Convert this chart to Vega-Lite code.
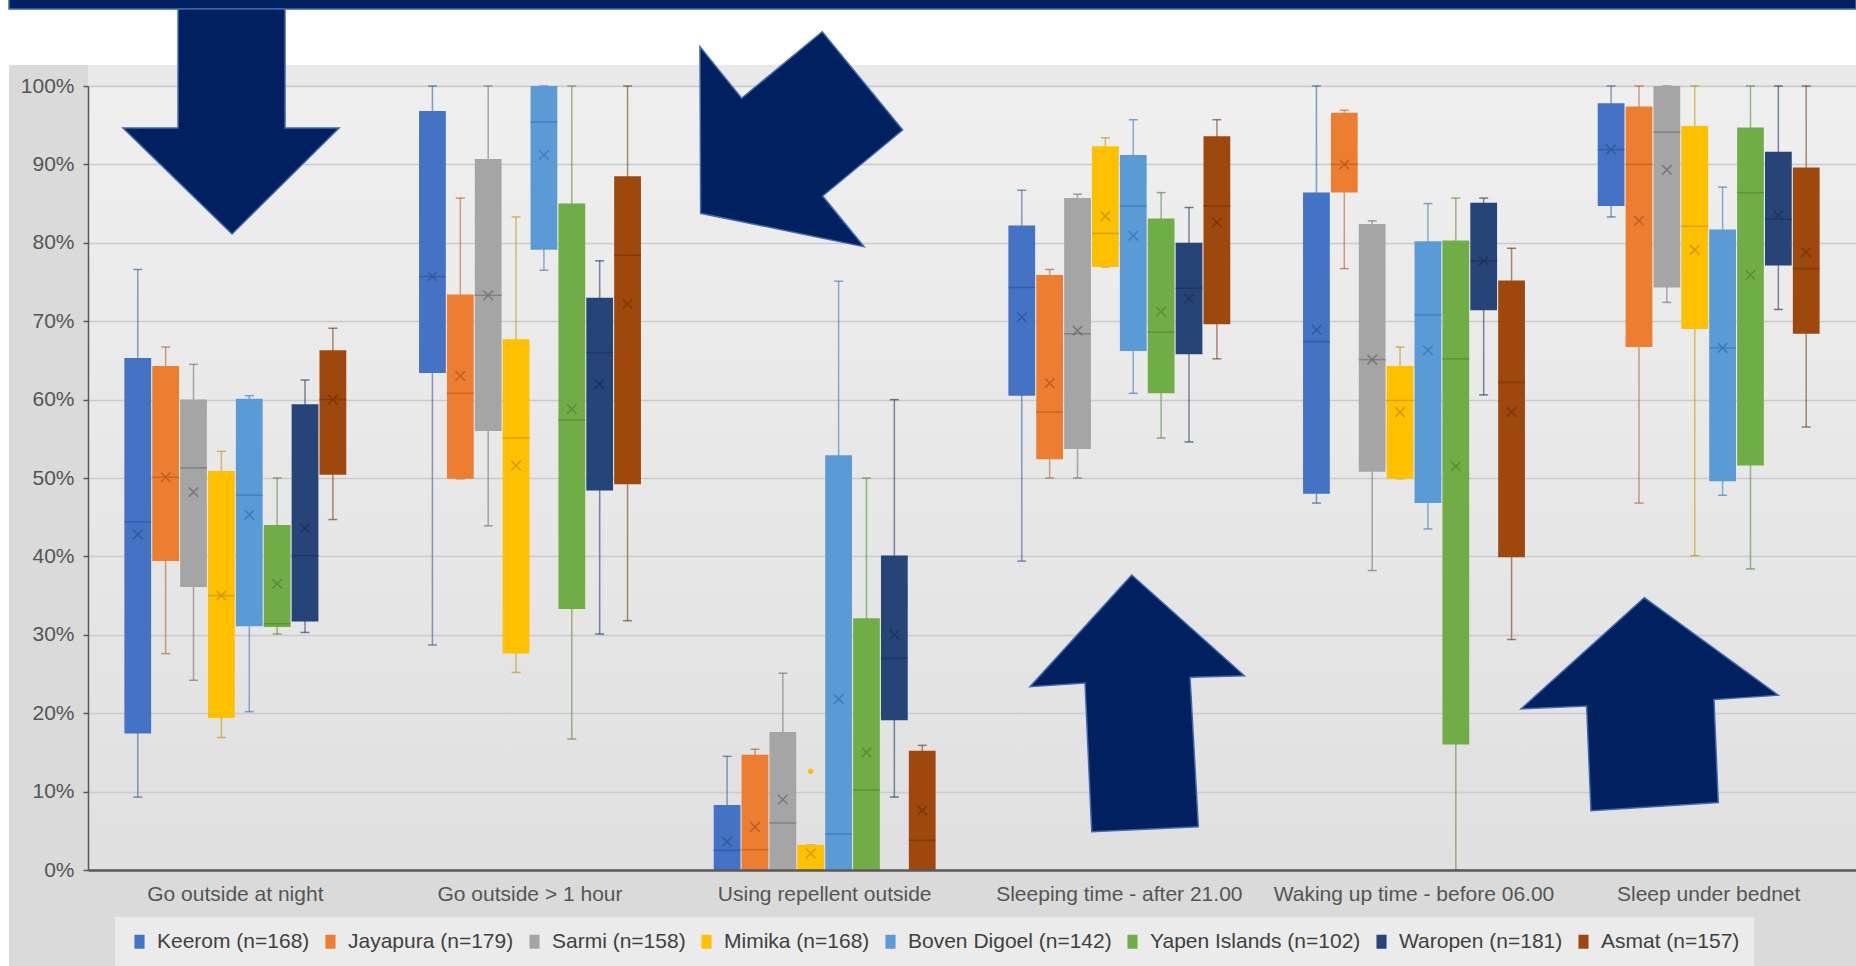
{
  "$schema": "https://vega.github.io/schema/vega-lite/v6.json",
  "width": 1768,
  "height": 784,
  "autosize": {"type": "none"},
  "padding": {"left": 88, "top": 86, "right": 0, "bottom": 96},
  "background": "#dadada",
  "datasets": {
    "boxes": [
      {"cat": "Go outside at night", "district": "Keerom (n=168)", "lo": 9.3, "q1": 17.4, "med": 44.4, "q3": 65.3, "hi": 76.6, "mean": 42.8},
      {"cat": "Go outside at night", "district": "Jayapura (n=179)", "lo": 27.6, "q1": 39.4, "med": 50.1, "q3": 64.3, "hi": 66.7, "mean": 50.1},
      {"cat": "Go outside at night", "district": "Sarmi (n=158)", "lo": 24.2, "q1": 36.1, "med": 51.3, "q3": 60.0, "hi": 64.5, "mean": 48.2},
      {"cat": "Go outside at night", "district": "Mimika (n=168)", "lo": 16.9, "q1": 19.4, "med": 35.0, "q3": 50.9, "hi": 53.4, "mean": 35.0},
      {"cat": "Go outside at night", "district": "Boven Digoel (n=142)", "lo": 20.2, "q1": 31.1, "med": 47.8, "q3": 60.1, "hi": 60.5, "mean": 45.3},
      {"cat": "Go outside at night", "district": "Yapen Islands (n=102)", "lo": 30.1, "q1": 31.0, "med": 31.4, "q3": 44.0, "hi": 50.0, "mean": 36.5},
      {"cat": "Go outside at night", "district": "Waropen (n=181)", "lo": 30.3, "q1": 31.7, "med": 40.1, "q3": 59.4, "hi": 62.5, "mean": 43.6},
      {"cat": "Go outside at night", "district": "Asmat (n=157)", "lo": 44.7, "q1": 50.4, "med": 60.0, "q3": 66.3, "hi": 69.1, "mean": 60.0},

      {"cat": "Go outside > 1 hour", "district": "Keerom (n=168)", "lo": 28.7, "q1": 63.4, "med": 75.7, "q3": 96.8, "hi": 100, "mean": 75.7},
      {"cat": "Go outside > 1 hour", "district": "Jayapura (n=179)", "lo": 49.9, "q1": 49.9, "med": 60.8, "q3": 73.4, "hi": 85.7, "mean": 63.0},
      {"cat": "Go outside > 1 hour", "district": "Sarmi (n=158)", "lo": 43.9, "q1": 56.0, "med": 73.3, "q3": 90.7, "hi": 100, "mean": 73.3},
      {"cat": "Go outside > 1 hour", "district": "Mimika (n=168)", "lo": 25.2, "q1": 27.6, "med": 55.1, "q3": 67.7, "hi": 83.3, "mean": 51.6},
      {"cat": "Go outside > 1 hour", "district": "Boven Digoel (n=142)", "lo": 76.5, "q1": 79.1, "med": 95.4, "q3": 100, "hi": 100, "mean": 91.2},
      {"cat": "Go outside > 1 hour", "district": "Yapen Islands (n=102)", "lo": 16.7, "q1": 33.3, "med": 57.4, "q3": 85.0, "hi": 100, "mean": 58.8},
      {"cat": "Go outside > 1 hour", "district": "Waropen (n=181)", "lo": 30.1, "q1": 48.4, "med": 66.0, "q3": 73.0, "hi": 77.7, "mean": 62.0},
      {"cat": "Go outside > 1 hour", "district": "Asmat (n=157)", "lo": 31.8, "q1": 49.2, "med": 78.4, "q3": 88.5, "hi": 100, "mean": 72.2},

      {"cat": "Using repellent outside", "district": "Keerom (n=168)", "lo": 0, "q1": 0, "med": 2.5, "q3": 8.3, "hi": 14.5, "mean": 3.6},
      {"cat": "Using repellent outside", "district": "Jayapura (n=179)", "lo": 0, "q1": 0, "med": 2.6, "q3": 14.7, "hi": 15.4, "mean": 5.5},
      {"cat": "Using repellent outside", "district": "Sarmi (n=158)", "lo": 0, "q1": 0, "med": 6.0, "q3": 17.6, "hi": 25.1, "mean": 9.0},
      {"cat": "Using repellent outside", "district": "Mimika (n=168)", "lo": 0, "q1": 0, "med": 0, "q3": 3.2, "hi": 3.2, "mean": 2.1},
      {"cat": "Using repellent outside", "district": "Boven Digoel (n=142)", "lo": 0, "q1": 0, "med": 4.6, "q3": 52.9, "hi": 75.1, "mean": 21.8},
      {"cat": "Using repellent outside", "district": "Yapen Islands (n=102)", "lo": 0, "q1": 0, "med": 10.2, "q3": 32.1, "hi": 50.0, "mean": 15.0},
      {"cat": "Using repellent outside", "district": "Waropen (n=181)", "lo": 9.3, "q1": 19.1, "med": 27.0, "q3": 40.1, "hi": 60.0, "mean": 30.0},
      {"cat": "Using repellent outside", "district": "Asmat (n=157)", "lo": 0, "q1": 0, "med": 3.8, "q3": 15.2, "hi": 15.9, "mean": 7.6},

      {"cat": "Sleeping time - after 21.00", "district": "Keerom (n=168)", "lo": 39.4, "q1": 60.5, "med": 74.3, "q3": 82.2, "hi": 86.7, "mean": 70.5},
      {"cat": "Sleeping time - after 21.00", "district": "Jayapura (n=179)", "lo": 50.0, "q1": 52.4, "med": 58.4, "q3": 75.9, "hi": 76.6, "mean": 62.1},
      {"cat": "Sleeping time - after 21.00", "district": "Sarmi (n=158)", "lo": 50.0, "q1": 53.7, "med": 68.4, "q3": 85.7, "hi": 86.2, "mean": 68.8},
      {"cat": "Sleeping time - after 21.00", "district": "Mimika (n=168)", "lo": 76.9, "q1": 76.9, "med": 81.2, "q3": 92.3, "hi": 93.4, "mean": 83.4},
      {"cat": "Sleeping time - after 21.00", "district": "Boven Digoel (n=142)", "lo": 60.8, "q1": 66.2, "med": 84.7, "q3": 91.2, "hi": 95.7, "mean": 80.9},
      {"cat": "Sleeping time - after 21.00", "district": "Yapen Islands (n=102)", "lo": 55.1, "q1": 60.8, "med": 68.6, "q3": 83.1, "hi": 86.4, "mean": 71.2},
      {"cat": "Sleeping time - after 21.00", "district": "Waropen (n=181)", "lo": 54.6, "q1": 65.8, "med": 74.2, "q3": 80.0, "hi": 84.5, "mean": 72.9},
      {"cat": "Sleeping time - after 21.00", "district": "Asmat (n=157)", "lo": 65.2, "q1": 69.6, "med": 84.7, "q3": 93.6, "hi": 95.7, "mean": 82.6},

      {"cat": "Waking up time - before 06.00", "district": "Keerom (n=168)", "lo": 46.8, "q1": 48.0, "med": 67.4, "q3": 86.4, "hi": 100, "mean": 68.9},
      {"cat": "Waking up time - before 06.00", "district": "Jayapura (n=179)", "lo": 76.7, "q1": 86.4, "med": 90.0, "q3": 96.6, "hi": 96.9, "mean": 90.0},
      {"cat": "Waking up time - before 06.00", "district": "Sarmi (n=158)", "lo": 38.2, "q1": 50.8, "med": 65.1, "q3": 82.4, "hi": 82.8, "mean": 65.1},
      {"cat": "Waking up time - before 06.00", "district": "Mimika (n=168)", "lo": 49.9, "q1": 49.9, "med": 59.9, "q3": 64.3, "hi": 66.7, "mean": 58.4},
      {"cat": "Waking up time - before 06.00", "district": "Boven Digoel (n=142)", "lo": 43.5, "q1": 46.8, "med": 70.8, "q3": 80.2, "hi": 85.0, "mean": 66.3},
      {"cat": "Waking up time - before 06.00", "district": "Yapen Islands (n=102)", "lo": 0, "q1": 16.0, "med": 65.2, "q3": 80.3, "hi": 85.7, "mean": 51.5},
      {"cat": "Waking up time - before 06.00", "district": "Waropen (n=181)", "lo": 60.6, "q1": 71.4, "med": 77.7, "q3": 85.1, "hi": 85.7, "mean": 77.7},
      {"cat": "Waking up time - before 06.00", "district": "Asmat (n=157)", "lo": 29.4, "q1": 39.9, "med": 62.2, "q3": 75.2, "hi": 79.3, "mean": 58.4},

      {"cat": "Sleep under bednet", "district": "Keerom (n=168)", "lo": 83.3, "q1": 84.7, "med": 91.9, "q3": 97.8, "hi": 100, "mean": 91.9},
      {"cat": "Sleep under bednet", "district": "Jayapura (n=179)", "lo": 46.8, "q1": 66.7, "med": 90.0, "q3": 97.4, "hi": 100, "mean": 82.8},
      {"cat": "Sleep under bednet", "district": "Sarmi (n=158)", "lo": 72.4, "q1": 74.3, "med": 94.1, "q3": 100, "hi": 100, "mean": 89.3},
      {"cat": "Sleep under bednet", "district": "Mimika (n=168)", "lo": 40.1, "q1": 69.0, "med": 82.1, "q3": 94.9, "hi": 100, "mean": 79.1},
      {"cat": "Sleep under bednet", "district": "Boven Digoel (n=142)", "lo": 47.8, "q1": 49.6, "med": 66.6, "q3": 81.7, "hi": 87.1, "mean": 66.6},
      {"cat": "Sleep under bednet", "district": "Yapen Islands (n=102)", "lo": 38.4, "q1": 51.6, "med": 86.4, "q3": 94.7, "hi": 100, "mean": 75.9},
      {"cat": "Sleep under bednet", "district": "Waropen (n=181)", "lo": 71.5, "q1": 77.1, "med": 83.0, "q3": 91.6, "hi": 100, "mean": 83.5},
      {"cat": "Sleep under bednet", "district": "Asmat (n=157)", "lo": 56.5, "q1": 68.4, "med": 76.7, "q3": 89.6, "hi": 100, "mean": 78.8}
    ],
    "outliers": [
      {"cat": "Using repellent outside", "district": "Mimika (n=168)", "value": 12.6}
    ]
  },
  "layer": [
    {
      "data": {"values": [{}]},
      "layer": [
        {
          "mark": {"type": "rect", "fill": "white"},
          "encoding": {
            "x": {"datum": -0.06, "type": "quantitative", "scale": {"domain": [0, 1], "nice": false, "zero": false}, "axis": null},
            "x2": {"datum": 1.0},
            "y": {"datum": 111.0, "type": "quantitative", "scale": {"domain": [0, 100], "nice": false}, "axis": null},
            "y2": {"datum": 102.68}
          }
        },
        {
          "mark": {"type": "rect", "fill": "#e9e9e9"},
          "encoding": {
            "x": {"datum": 0, "type": "quantitative"},
            "x2": {"datum": 1.0},
            "y": {"datum": 102.68, "type": "quantitative"},
            "y2": {"datum": 100.1}
          }
        },
        {
          "mark": {"type": "rect", "fill": "white"},
          "encoding": {
            "x": {"datum": -0.06, "type": "quantitative"},
            "x2": {"datum": -0.04468},
            "y": {"datum": 111.0, "type": "quantitative"},
            "y2": {"datum": -13.0}
          }
        },
        {
          "mark": {"type": "rect", "fill": "#002060", "stroke": "#3f68ad", "strokeWidth": 1.5},
          "encoding": {
            "x": {"datum": -0.04468, "type": "quantitative"},
            "x2": {"datum": 1.0},
            "y": {"datum": 111.2, "type": "quantitative"},
            "y2": {"datum": 109.82}
          }
        }
      ]
    },
    {
      "data": {"name": "boxes"},
      "encoding": {
        "x": {
          "field": "cat", "type": "nominal", "title": null,
          "sort": ["Go outside at night", "Go outside > 1 hour", "Using repellent outside", "Sleeping time - after 21.00", "Waking up time - before 06.00", "Sleep under bednet"],
          "scale": {
            "domain": ["Go outside at night", "Go outside > 1 hour", "Using repellent outside", "Sleeping time - after 21.00", "Waking up time - before 06.00", "Sleep under bednet"],
            "paddingInner": 0.247, "paddingOuter": 0.1235
          },
          "axis": {
            "orient": "bottom",
            "labelAngle": 0, "ticks": false, "grid": false, "zindex": 1,
            "domainColor": "#595959", "domainWidth": 2.5,
            "labelFont": "Liberation Sans", "labelFontSize": 21, "labelColor": "#555555",
            "labelPadding": 13, "labelLimit": 400
          }
        },
        "xOffset": {
          "field": "district", "type": "nominal",
          "scale": {
            "domain": ["Keerom (n=168)", "Jayapura (n=179)", "Sarmi (n=158)", "Mimika (n=168)", "Boven Digoel (n=142)", "Yapen Islands (n=102)", "Waropen (n=181)", "Asmat (n=157)"],
            "paddingInner": 0.04, "paddingOuter": 0
          }
        }
      },
      "layer": [
        {
          "mark": {"type": "rule", "strokeWidth": 1.5, "opacity": 0.55},
          "encoding": {
            "y": {
              "field": "lo", "type": "quantitative", "title": null,
              "scale": {"domain": [0, 100], "nice": false},
              "axis": {
                "orient": "left",
                "values": [0, 10, 20, 30, 40, 50, 60, 70, 80, 90, 100],
                "labelExpr": "datum.value + '%'",
                "grid": true, "gridColor": "#cbcbcb", "gridWidth": 1.5,
                "domainColor": "#595959", "domainWidth": 1.5,
                "tickColor": "#595959", "tickSize": 5, "tickWidth": 1.5,
                "labelFont": "Liberation Sans", "labelFontSize": 21, "labelColor": "#555555",
                "labelPadding": 9
              }
            },
            "y2": {"field": "hi"},
            "stroke": {
              "field": "district", "type": "nominal", "legend": null,
              "scale": {
                "domain": ["Asmat (n=157)", "Waropen (n=181)", "Yapen Islands (n=102)", "Boven Digoel (n=142)", "Mimika (n=168)", "Sarmi (n=158)", "Jayapura (n=179)", "Keerom (n=168)"],
                "range": ["#6E320A", "#1A2F52", "#538135", "#2E75B6", "#BF9000", "#6B6B6B", "#AE5A21", "#2F528F"]
              }
            }
          }
        },
        {
          "mark": {"type": "tick", "size": 9, "thickness": 1.5, "opacity": 0.6},
          "encoding": {
            "y": {"field": "lo", "type": "quantitative", "title": null},
            "fill": {
              "field": "district", "type": "nominal", "legend": null,
              "scale": {
                "domain": ["Jayapura (n=179)", "Sarmi (n=158)", "Mimika (n=168)", "Boven Digoel (n=142)", "Yapen Islands (n=102)", "Waropen (n=181)", "Asmat (n=157)", "Keerom (n=168)"],
                "range": ["#AE5A21", "#6B6B6B", "#BF9000", "#2E75B6", "#538135", "#1A2F52", "#6E320A", "#2F528F"]
              }
            }
          }
        },
        {
          "mark": {"type": "tick", "size": 9, "thickness": 1.5, "opacity": 0.6},
          "encoding": {
            "y": {"field": "hi", "type": "quantitative", "title": null},
            "fill": {"field": "district", "type": "nominal", "legend": null}
          }
        },
        {
          "mark": {"type": "bar"},
          "encoding": {
            "y": {"field": "q1", "type": "quantitative", "title": null},
            "y2": {"field": "q3"},
            "color": {
              "field": "district", "type": "nominal",
              "scale": {
                "domain": ["Keerom (n=168)", "Jayapura (n=179)", "Sarmi (n=158)", "Mimika (n=168)", "Boven Digoel (n=142)", "Yapen Islands (n=102)", "Waropen (n=181)", "Asmat (n=157)"],
                "range": ["#4472C4", "#ED7D31", "#A5A5A5", "#FFC000", "#5B9BD5", "#70AD47", "#264478", "#9E480E"]
              },
              "legend": {
                "orient": "none", "legendX": 27, "legendY": 831,
                "direction": "horizontal", "columns": 8, "title": null,
                "fillColor": "#ebebeb", "padding": 14,
                "labelFont": "Liberation Sans", "labelFontSize": 21, "labelColor": "#404040",
                "labelLimit": 400, "labelOffset": 7, "columnPadding": 10,
                "symbolType": "M-0.72,-1H0.72V1H-0.72Z", "symbolSize": 196, "symbolStrokeWidth": 0
              }
            }
          }
        },
        {
          "mark": {"type": "tick", "size": 27, "thickness": 1.5, "opacity": 0.6},
          "encoding": {
            "y": {"field": "med", "type": "quantitative", "title": null},
            "fill": {"field": "district", "type": "nominal", "legend": null}
          }
        },
        {
          "mark": {"type": "point", "shape": "M-1,-1L1,1M-1,1L1,-1", "size": 90, "strokeWidth": 1.5, "filled": false, "opacity": 0.75},
          "encoding": {
            "y": {"field": "mean", "type": "quantitative", "title": null},
            "stroke": {"field": "district", "type": "nominal", "legend": null}
          }
        },
        {
          "data": {"name": "outliers"},
          "mark": {"type": "point", "filled": true, "size": 30, "opacity": 1},
          "encoding": {
            "y": {"field": "value", "type": "quantitative", "title": null},
            "color": {"field": "district", "type": "nominal"}
          }
        },
        {
          "data": {"values": [{}]},
          "mark": {"type": "point", "shape": "M-0.573,-1.554L0.497,-1.554L0.497,-0.364L1.037,-0.364L-0.033,0.696L-1.123,-0.364L-0.573,-0.364Z", "size": 40000, "filled": true, "fill": "#002060", "stroke": "#3f68ad", "strokeWidth": 1.5, "opacity": 1},
          "encoding": {
            "x": {"datum": "Go outside at night", "type": "nominal"},
            "xOffset": null,
            "y": {"datum": 90, "type": "quantitative"}
          }
        },
        {
          "data": {"values": [{}]},
          "mark": {"type": "point", "shape": "M-1.247,-1.177L-0.830,-0.661L-0.024,-1.327L0.780,-0.344L-0.020,0.316L0.393,0.823L-1.240,0.489Z", "size": 40000, "filled": true, "fill": "#002060", "stroke": "#3f68ad", "strokeWidth": 1.5, "opacity": 1},
          "encoding": {
            "x": {"datum": "Using repellent outside", "type": "nominal"},
            "xOffset": null,
            "y": {"datum": 90, "type": "quantitative"}
          }
        },
        {
          "data": {"values": [{}]},
          "mark": {"type": "point", "shape": "M0.124,-0.598L1.250,0.409L0.707,0.425L0.790,1.919L-0.276,1.969L-0.343,0.482L-0.893,0.519Z", "size": 40000, "filled": true, "fill": "#002060", "stroke": "#3f68ad", "strokeWidth": 1.5, "opacity": 1},
          "encoding": {
            "x": {"datum": "Sleeping time - after 21.00", "type": "nominal"},
            "xOffset": null,
            "y": {"datum": 30, "type": "quantitative"}
          }
        },
        {
          "data": {"values": [{}]},
          "mark": {"type": "point", "shape": "M-0.644,-0.371L0.696,0.604L0.053,0.648L0.096,1.677L-1.177,1.759L-1.220,0.712L-1.877,0.742Z", "size": 40000, "filled": true, "fill": "#002060", "stroke": "#3f68ad", "strokeWidth": 1.5, "opacity": 1},
          "encoding": {
            "x": {"datum": "Sleep under bednet", "type": "nominal"},
            "xOffset": null,
            "y": {"datum": 30, "type": "quantitative"}
          }
        }
      ]
    }
  ],
  "resolve": {"scale": {"x": "independent", "y": "independent"}},
  "config": {
    "view": {
      "stroke": null,
      "fill": {"gradient": "linear", "x1": 0, "y1": 0, "x2": 0, "y2": 1, "stops": [{"offset": 0, "color": "#efefef"}, {"offset": 1, "color": "#e0e0e0"}]}
    }
  }
}
